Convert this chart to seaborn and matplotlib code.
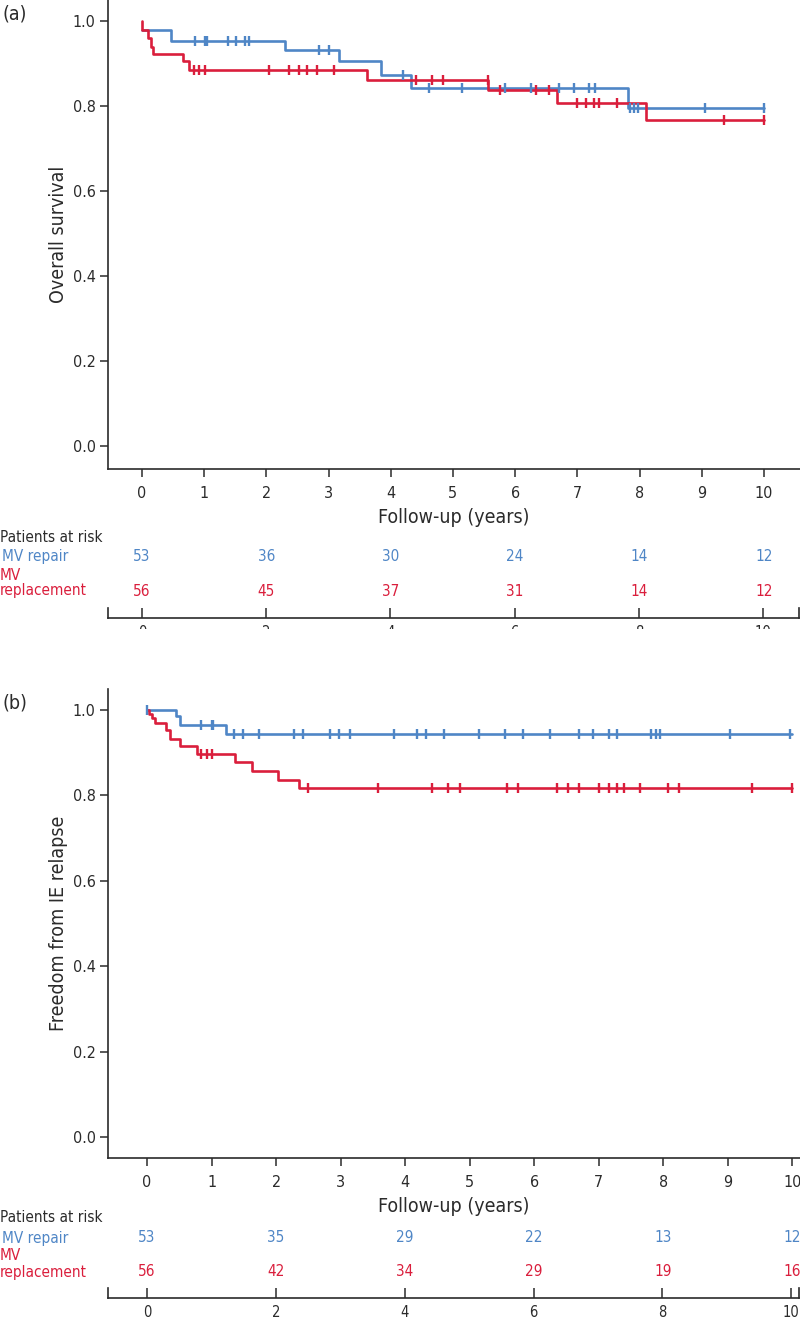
import numpy as np
import pandas as pd
import matplotlib
matplotlib.use("Agg")
import matplotlib.pyplot as plt
import matplotlib.transforms as mtransforms
from matplotlib import font_manager as fm
from matplotlib.patches import Rectangle
import seaborn as sns

# ---------------- data ----------------
# Panel (a): overall survival
rep_os_t = [0.0, 0.47, 2.30, 3.16, 3.85, 4.33, 7.82, 10.0]
rep_os_s = [0.980, 0.955, 0.932, 0.906, 0.875, 0.843, 0.797, 0.797]
rep_os_cens = [0.85, 1.02, 1.05, 1.38, 1.51, 1.66, 1.72, 2.84, 3.00, 4.20, 4.62,
               5.15, 5.84, 6.25, 6.71, 6.94, 7.18, 7.29, 7.84, 7.91, 7.98, 9.05, 10.0]
rpl_os_t = [0.0, 0.0, 0.09, 0.14, 0.17, 0.66, 0.76, 3.62, 5.57, 6.67, 8.11, 10.0]
rpl_os_s = [1.0, 0.979, 0.962, 0.941, 0.924, 0.907, 0.886, 0.863, 0.838, 0.809, 0.767, 0.767]
rpl_os_cens = [0.84, 0.92, 1.01, 2.04, 2.36, 2.53, 2.66, 2.81, 3.08, 4.41, 4.67, 4.84,
               5.56, 5.76, 6.34, 6.54, 7.00, 7.14, 7.27, 7.34, 7.63, 9.35, 10.0]

# Panel (b): freedom from IE relapse
rep_ir_t = [0.0, 0.45, 0.51, 1.22, 10.0]
rep_ir_s = [1.0, 0.985, 0.965, 0.943, 0.943]
rep_ir_cens = [0.0, 0.84, 1.00, 1.03, 1.35, 1.49, 1.73, 2.27, 2.42, 2.83, 2.98, 3.15,
               3.83, 4.19, 4.33, 4.60, 5.15, 5.55, 5.83, 6.25, 6.69, 6.91, 7.16, 7.28,
               7.81, 7.89, 7.95, 9.03, 9.97]
rpl_ir_t = [0.0, 0.03, 0.08, 0.13, 0.29, 0.36, 0.51, 0.77, 1.36, 1.63, 2.03, 2.35, 10.0]
rpl_ir_s = [1.0, 0.99, 0.98, 0.97, 0.953, 0.932, 0.916, 0.897, 0.877, 0.856, 0.836, 0.817, 0.817]
rpl_ir_cens = [0.83, 0.93, 1.01, 2.50, 3.58, 4.42, 4.67, 4.85, 5.58, 5.75, 6.36, 6.53,
               6.70, 7.00, 7.16, 7.29, 7.40, 7.64, 8.08, 8.25, 9.38, 10.0]

# Patients at risk
risk_times = [0, 2, 4, 6, 8, 10]
risk_rep_a = [53, 36, 30, 24, 14, 12]
risk_rpl_a = [56, 45, 37, 31, 14, 12]
risk_rep_b = [53, 35, 29, 22, 13, 12]
risk_rpl_b = [56, 42, 34, 29, 19, 16]

x_ticks = list(range(0, 11))
y_ticks = [0.0, 0.2, 0.4, 0.6, 0.8, 1.0]

# ---------------- style ----------------
BLUE = "#4F86C6"
RED = "#DA1E3C"
INK = "#2b2b2b"

sns.set_theme(style="ticks")

# pick a condensed sans face if one is installed
cond = None
for f in fm.fontManager.ttflist:
    nm = f.name + " " + f.fname
    if ("Narrow" in nm or "Condensed" in nm or str(f.stretch) in ("condensed", "semi-condensed", "extra-condensed")) \
            and f.style == "normal" and f.weight in (400, "normal", "regular", 300, "light"):
        cond = f
        break
if cond is not None:
    plt.rcParams['font.family'] = [cond.name, 'DejaVu Sans']
    plt.rcParams['font.stretch'] = cond.stretch
    FS = 1.0
else:
    plt.rcParams['font.family'] = ['DejaVu Sans']
    FS = 0.92

plt.rcParams['axes.edgecolor'] = INK
plt.rcParams['xtick.color'] = INK
plt.rcParams['ytick.color'] = INK
plt.rcParams['text.color'] = INK
plt.rcParams['axes.labelcolor'] = INK

W, H = 800, 1319
fig = plt.figure(figsize=(W / 100, H / 100), dpi=100)


def axes_px(left, top, right, bottom):
    return fig.add_axes([left / W, 1 - bottom / H, (right - left) / W, (bottom - top) / H])


def step_at(ts, ss, c):
    ts = np.asarray(ts)
    idx = np.searchsorted(ts, c, side="right") - 1
    return np.asarray(ss)[np.clip(idx, 0, len(ss) - 1)]


def draw_panel(tag, top, axis_y, xlim, ylim, curves, ylabel, risk_rows, rows_y, risk_axis_y):
    ax = axes_px(108, top, 800, axis_y)
    for t, s, c, col in curves:
        df = pd.DataFrame({"t": t, "s": s})
        sns.lineplot(data=df, x="t", y="s", ax=ax, color=col, lw=1.9,
                     drawstyle="steps-post", estimator=None, sort=False, legend=False)
        cv = step_at(t, s, np.asarray(c))
        sns.scatterplot(x=c, y=cv, ax=ax, marker="|", s=60, linewidth=1.7,
                        color=col, legend=False, zorder=3)
    ax.set_xlim(*xlim)
    ax.set_ylim(*ylim)
    ax.set_xticks(x_ticks)
    ax.set_yticks(y_ticks)
    ax.set_yticklabels([f"{v:.1f}" for v in y_ticks])
    ax.tick_params(axis="both", length=6, width=1.1, labelsize=11.5 * FS, pad=3)
    ax.tick_params(axis="x", pad=6)
    for sp in ["top", "right"]:
        ax.spines[sp].set_visible(False)
    for sp in ["left", "bottom"]:
        ax.spines[sp].set_linewidth(1.2)
    ax.set_xlabel("Follow-up (years)", fontsize=14 * FS, labelpad=5)
    ax.set_ylabel(ylabel, fontsize=14 * FS, labelpad=3)
    ax.grid(False)

    fig.text(3 / W, 1 - (top + 14) / H, tag, fontsize=14 * FS, va="center", ha="left")

    # risk table
    tr = mtransforms.blended_transform_factory(ax.transData, fig.transFigure)
    rs = 11 * FS
    fig.text(0 / W, 1 - rows_y[0] / H, "Patients at risk", fontsize=rs, va="center", ha="left")
    fig.text(2 / W, 1 - rows_y[1] / H, "MV repair", fontsize=rs, va="center", ha="left", color=BLUE)
    fig.text(0 / W, 1 - rows_y[2] / H, "MV", fontsize=rs, va="center", ha="left", color=RED)
    fig.text(0 / W, 1 - rows_y[3] / H, "replacement", fontsize=rs, va="center", ha="left", color=RED)
    for vals, yy, col in [(risk_rows[0], rows_y[1], BLUE), (risk_rows[1], rows_y[3], RED)]:
        for tt, v in zip(risk_times, vals):
            ax.text(tt, 1 - yy / H, str(v), transform=tr, fontsize=rs,
                    ha="center", va="center", color=col)

    rax = axes_px(108, risk_axis_y - 10, 799, risk_axis_y)
    rax.set_xlim(*xlim)
    rax.set_ylim(0, 1)
    rax.set_facecolor("none")
    rax.spines["top"].set_visible(False)
    for sp in ["left", "right", "bottom"]:
        rax.spines[sp].set_linewidth(1.2)
    rax.set_yticks([])
    rax.set_xticks(risk_times)
    rax.tick_params(axis="x", direction="in", length=7.5, width=1.1, labelsize=10.5 * FS, pad=5)
    return ax


draw_panel("(a)", 0, 469, (-0.547, 10.58), (-0.0542, 1.0506),
           [(rep_os_t, rep_os_s, rep_os_cens, BLUE), (rpl_os_t, rpl_os_s, rpl_os_cens, RED)],
           "Overall survival", (risk_rep_a, risk_rpl_a), (537, 557, 575, 591), 618)

draw_panel("(b)", 689, 1158, (-0.605, 10.12), (-0.049, 1.049),
           [(rep_ir_t, rep_ir_s, rep_ir_cens, BLUE), (rpl_ir_t, rpl_ir_s, rpl_ir_cens, RED)],
           "Freedom from IE relapse", (risk_rep_b, risk_rpl_b), (1217, 1238, 1255, 1272), 1298)

# the reference crops panel (a) just below its risk-table axis
fig.patches.append(Rectangle((0, 1 - 660 / H), 1, (660 - 629) / H, transform=fig.transFigure,
                             facecolor="white", edgecolor="none", zorder=10))

fig.savefig("out.png", dpi=100, facecolor="white")
